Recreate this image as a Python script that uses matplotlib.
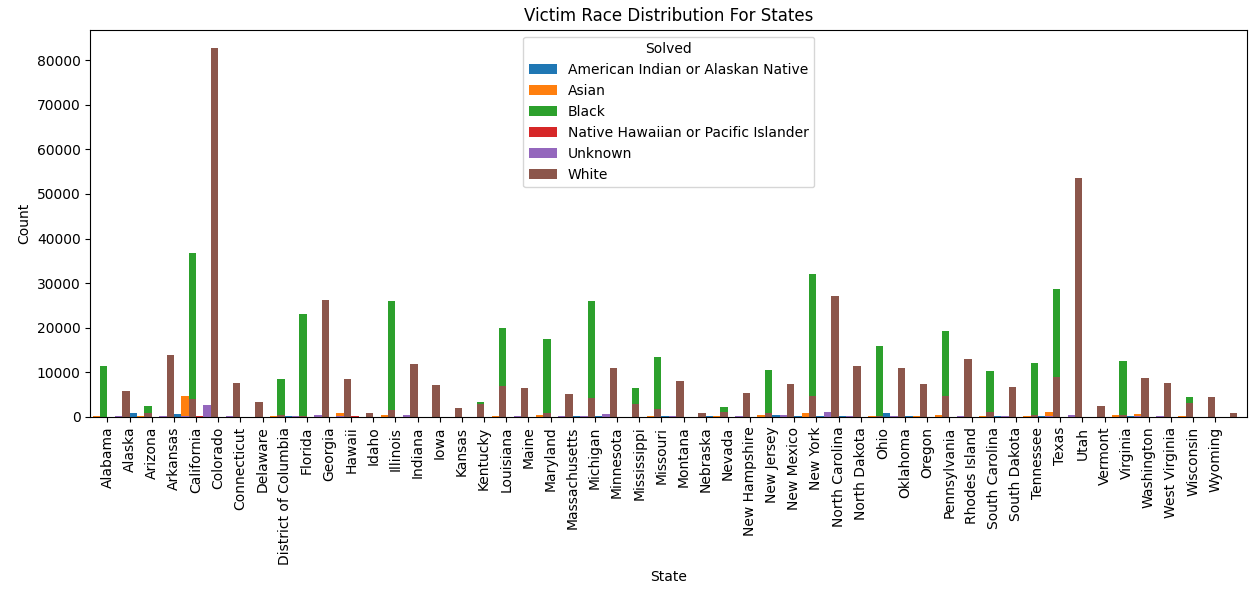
import numpy as np
import matplotlib.pyplot as plt

states = ["Alabama", "Alaska", "Arizona", "Arkansas", "California", "Colorado", "Connecticut",
          "Delaware", "District of Columbia", "Florida", "Georgia", "Hawaii", "Idaho", "Illinois",
          "Indiana", "Iowa", "Kansas", "Kentucky", "Louisiana", "Maine", "Maryland",
          "Massachusetts", "Michigan", "Minnesota", "Mississippi", "Missouri", "Montana",
          "Nebraska", "Nevada", "New Hampshire", "New Jersey", "New Mexico", "New York",
          "North Carolina", "North Dakota", "Ohio", "Oklahoma", "Oregon", "Pennsylvania",
          "Rhodes Island", "South Carolina", "South Dakota", "Tennessee", "Texas", "Utah",
          "Vermont", "Virginia", "Washington", "West Virginia", "Wisconsin", "Wyoming"]

races = ["American Indian or Alaskan Native", "Asian", "Black",
         "Native Hawaiian or Pacific Islander", "Unknown", "White"]

aian = [60, 100, 800, 60, 600, 150, 30, 20, 10, 200, 60, 30, 60, 80, 40, 50, 80, 30, 60, 40,
        40, 60, 300, 300, 60, 60, 200, 80, 150, 10, 40, 400, 300, 200, 150, 60, 800, 200, 40,
        20, 60, 300, 40, 200, 100, 10, 60, 300, 10, 100, 40]
asian = [150, 100, 300, 80, 4700, 200, 150, 30, 150, 300, 250, 800, 30, 400, 80, 80, 100, 60,
         150, 20, 400, 300, 300, 300, 60, 200, 20, 60, 300, 30, 500, 80, 900, 250, 10, 200,
         150, 300, 400, 60, 150, 20, 200, 1100, 100, 10, 500, 700, 20, 150, 10]
black = [11500, 100, 2400, 4000, 36700, 2500, 3000, 1000, 8500, 23000, 20000, 100, 50, 26000,
         4000, 300, 1500, 3300, 20000, 50, 17500, 3000, 26000, 1000, 6500, 13400, 50, 800,
         2200, 50, 10500, 400, 32000, 15000, 20, 16000, 3000, 500, 19300, 500, 10200, 50,
         12000, 28800, 100, 20, 12500, 1500, 400, 4500, 30]
nhpi = [10, 30, 40, 10, 300, 20, 10, 5, 5, 50, 20, 200, 5, 20, 10, 5, 10, 5, 10, 5, 10, 10,
        20, 10, 5, 10, 5, 5, 30, 5, 20, 10, 50, 20, 5, 20, 10, 30, 20, 5, 10, 5, 10, 60, 30,
        5, 20, 80, 5, 10, 5]
unknown = [200, 60, 300, 150, 2600, 200, 100, 30, 300, 400, 300, 60, 30, 400, 100, 50, 80, 60,
           300, 20, 200, 150, 600, 100, 60, 150, 20, 40, 150, 20, 400, 100, 1200, 200, 10, 300,
           100, 100, 300, 50, 150, 20, 200, 500, 60, 10, 300, 200, 30, 100, 10]
white = [5800, 1000, 13900, 4000, 82700, 7600, 3300, 500, 300, 26300, 8500, 800, 1500, 11900,
         7100, 2000, 3000, 7000, 6500, 1000, 5100, 4300, 11000, 3000, 1800, 8000, 900, 1200,
         5300, 800, 7300, 4800, 27200, 11500, 300, 11000, 7500, 4800, 13000, 1200, 6700, 500,
         9000, 53500, 2400, 500, 8700, 7600, 3200, 4400, 900]

series = [aian, asian, black, nhpi, unknown, white]
colors = ["#1f77b4", "#ff7f0e", "#2ca02c", "#d62728", "#9467bd", "#8c564b"]

fig = plt.figure(figsize=(12.55, 5.94), dpi=100)
ax = fig.add_axes([0.072, 0.298, 0.922, 0.652])

x = np.arange(len(states))
w = 1 / 3
for j, (vals, name) in enumerate(zip(series, races)):
    ax.bar(x + (j - 2.5) * w, vals, width=w, color=colors[j], label=name)

ax.set_xticks(x)
ax.set_xticklabels(states, rotation=90)
ax.set_xlim(-0.77, 51.45)
ax.set_xlabel("State")
ax.set_ylabel("Count")
ax.set_title("Victim Race Distribution For States")
ax.legend(title="Solved", loc="upper center")

fig.savefig("out.png")
